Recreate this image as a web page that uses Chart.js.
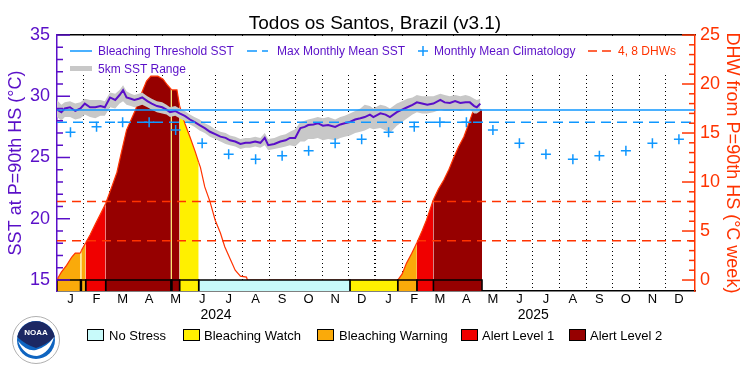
<!DOCTYPE html>
<html>
<head>
<meta charset="utf-8">
<script src="https://cdn.jsdelivr.net/npm/chart.js@4.4.0/dist/chart.umd.min.js"></script>
<style>
  body { margin: 0; background: #fff; }
  #caixa { position: relative; width: 750px; height: 375px; font-family: "Liberation Sans", Arial, sans-serif; }
  #grafico, #desenhos { position: absolute; left: 0; top: 0; }
  .leg { position: absolute; white-space: nowrap; font-size: 12px; line-height: 14px; color: #5a0fc8; }
  .leg-status { position: absolute; white-space: nowrap; font-size: 13px; line-height: 15px; color: #000; top: 328px; }
</style>
</head>
<body>
<div id="caixa">
  <canvas id="grafico" width="750" height="375"></canvas>
  <svg id="desenhos" width="750" height="375">
    <!-- fundo da legenda dentro do grafico -->
    <rect x="71" y="36" width="611" height="39" fill="#fff"/>
    <line x1="70" y1="51" x2="92" y2="51" stroke="#0f97ff" stroke-width="1.5"/>
    <line x1="247" y1="51" x2="268" y2="51" stroke="#0f97ff" stroke-width="1.5" stroke-dasharray="10 5"/>
    <line x1="418" y1="51" x2="428" y2="51" stroke="#0f97ff" stroke-width="1.5"/>
    <line x1="423" y1="46" x2="423" y2="56" stroke="#0f97ff" stroke-width="1.5"/>
    <line x1="588" y1="51" x2="612" y2="51" stroke="#ff3300" stroke-width="1.5" stroke-dasharray="9 5"/>
    <line x1="70" y1="68.5" x2="92" y2="68.5" stroke="#c8c8c8" stroke-width="5"/>
    <!-- caixas da legenda de status -->
    <rect x="87.5" y="329.5" width="16" height="11" fill="#c8fafa" stroke="#000"/>
    <rect x="183.5" y="329.5" width="16" height="11" fill="#fff000" stroke="#000"/>
    <rect x="317.5" y="329.5" width="16" height="11" fill="#faaa0a" stroke="#000"/>
    <rect x="461.5" y="329.5" width="16" height="11" fill="#f00000" stroke="#000"/>
    <rect x="569.5" y="329.5" width="16" height="11" fill="#960000" stroke="#000"/>
    <!-- logo NOAA simplificado -->
    <circle cx="36" cy="340" r="23.5" fill="#fff" stroke="#b0b0b0" stroke-width="1"/>
    <circle cx="36" cy="340" r="19" fill="#0e64c0"/>
    <path d="M17.3,337 A19,19 0 0 1 54.7,337 Q46,345 36,348 Q26,345 17.3,337 Z" fill="#1c2863"/>
    <path d="M18,341 Q27,352 36,350 Q47,347 54,337 Q49,354 37,356 Q24,356 18,341 Z" fill="#fff"/>
    <text x="36" y="335" font-size="8" font-weight="bold" fill="#fff" text-anchor="middle" font-family="Liberation Sans, Arial, sans-serif">NOAA</text>
  </svg>
  <div class="leg" style="left:98px; top:44px;">Bleaching Threshold SST</div>
  <div class="leg" style="left:277px; top:44px;">Max Monthly Mean SST</div>
  <div class="leg" style="left:434px; top:44px;">Monthly Mean Climatology</div>
  <div class="leg" style="left:618px; top:44px; color:#ff3300;">4, 8 DHWs</div>
  <div class="leg" style="left:98px; top:62px;">5km SST Range</div>
  <div class="leg-status" style="left:109px;">No Stress</div>
  <div class="leg-status" style="left:204px;">Bleaching Watch</div>
  <div class="leg-status" style="left:339px;">Bleaching Warning</div>
  <div class="leg-status" style="left:482px;">Alert Level 1</div>
  <div class="leg-status" style="left:590px;">Alert Level 2</div>
</div>
<script>
// dias contados a partir de 1 jan 2024
const diasSST = [0,5,9,15,21,27,32,38,44,50,55,61,67,72,76,80,85,89,94,98,104,109,115,121,126,130,136,141,147,153,158,164,170,176,182,188,194,199,205,211,217,222,228,234,239,243,250,257,263,268,274,280,285,289,295,300,306,312,320,326,331,337,343,349,354,360,364,372,378,383,391,397,403,409,414,420,426,433,441,446,452,458,464,470,475,480,483,487];
const sst    = [28.9,28.7,29.0,29.1,28.8,29.0,29.4,29.1,29.1,29.2,29.1,29.9,29.7,30.1,30.5,29.9,29.8,29.7,29.8,29.9,29.6,29.4,29.2,29.1,28.9,28.7,28.8,28.6,28.4,28.1,27.9,27.65,27.4,27.1,26.9,26.7,26.6,26.4,26.3,26.1,26.2,26.2,26.3,26.2,26.6,26.0,26.1,26.3,26.4,26.6,26.6,27.4,27.5,27.65,27.7,27.8,27.6,27.65,27.5,27.7,27.8,27.9,28.1,28.2,28.3,28.5,28.3,28.6,28.5,28.3,28.7,28.9,29.1,29.3,29.5,29.4,29.3,29.4,29.7,29.5,29.45,29.6,29.45,29.5,29.5,29.2,29.1,29.4];
const sstMin = [28.3,28.0,28.3,28.3,28.1,28.2,28.5,28.3,28.2,28.4,28.4,29.1,29.0,29.4,29.6,29.3,29.2,29.1,29.2,29.3,29.1,28.9,28.7,28.6,28.5,28.3,28.4,28.2,28.0,27.7,27.5,27.2,27.0,26.7,26.5,26.3,26.1,26.0,25.9,25.7,25.8,25.8,25.9,25.8,26.0,25.6,25.7,25.8,25.9,26.0,25.9,26.3,26.3,26.5,26.5,26.6,26.4,26.5,26.4,26.6,26.7,26.8,27.0,27.1,27.2,27.4,27.3,27.4,27.2,27.0,27.6,27.9,28.2,28.5,28.7,28.6,28.6,28.7,28.9,28.8,28.8,28.9,28.8,28.9,28.9,28.6,28.6,28.8];
const sstMax = [29.7,29.3,29.5,29.6,29.4,29.5,29.8,29.7,29.7,29.7,29.6,30.3,30.2,30.5,30.9,30.4,30.2,30.1,30.2,30.3,30.0,29.8,29.6,29.5,29.3,29.1,29.2,29.0,28.8,28.5,28.3,28.1,27.8,27.6,27.3,27.1,27.0,26.8,26.7,26.5,26.6,26.6,26.7,26.6,27.0,26.5,26.6,26.8,26.9,27.1,27.3,27.9,28.0,28.1,28.2,28.3,28.2,28.3,28.1,28.3,28.4,28.6,28.8,29.0,29.3,29.2,29.0,29.3,29.2,29.0,29.4,29.6,29.8,29.9,30.1,30.0,30.0,30.0,30.2,30.1,30.0,30.1,30.0,30.1,30.0,29.8,29.7,29.8];

const diasDHW = [0,1,5,11,17,21,27,28,33,38,44,51,56,63,69,74,80,86,90,97,103,108,116,122,127,131,132,138,141,147,153,159,163,165,170,176,182,188,193,199,205,211,218,219,392,397,402,408,414,420,425,433,439,445,451,456,462,468,473,477,479,483,489];
const dhw     = [0,0.2,0.8,1.5,2.35,2.75,2.75,3.0,3.8,4.6,5.7,6.9,7.8,9.5,11.0,13.0,15.3,16.5,17.3,19.0,20.3,20.8,20.8,20.5,19.9,19.5,19.4,19.4,17.8,16.0,14.6,13.1,12.0,11.5,9.5,8.0,6.1,4.8,3.4,2.2,1.0,0.4,0.3,0,0,0.6,1.7,2.7,3.8,5.0,6.1,8.2,9.3,10.2,11.3,12.4,13.6,14.6,15.8,16.8,17.3,17.6,17.3];

const diasClima = [15.5,45.5,75.5,106,136.5,167,197.5,228.5,259,289.5,320,350.5,381.5,411,440.5,471,501.5,532,562.5,593.5,624,654.5,685,715.5];
const clima     = [27.06,27.51,27.87,27.87,27.24,26.16,25.26,24.85,25.15,25.56,26.16,26.49,27.06,27.51,27.87,27.87,27.24,26.16,25.26,24.85,25.15,25.56,26.16,26.49];

const mmm = 27.87;
const limiarBranqueamento = 28.87;
const niveisDHW = [4, 8];

// status: 0 sem estresse, 1 watch, 2 warning, 3 alerta 1, 4 alerta 2
const statusInicio = [0, 27, 28, 33, 56, 131, 132, 141, 163, 337, 392, 414, 433];
const statusFim    = [27, 28, 33, 56, 131, 132, 141, 163, 337, 392, 414, 433, 489];
const statusNivel  = [2, 1, 2, 3, 4, 1, 4, 1, 0, 1, 2, 3, 4];
const coresStatus  = ['#c8fafa', '#fff000', '#faaa0a', '#f00000', '#960000'];

const inicioMes = [31,60,91,121,152,182,213,244,274,305,335,366,397,425,456,486,517,547,578,609,639,670,700];
const letrasMes = ['J','F','M','A','M','J','J','A','S','O','N','D','J','F','M','A','M','J','J','A','S','O','N','D'];
const meioAno = [183, 548];
const anos = ['2024', '2025'];
const ticksSST = [15,16,17,18,19,20,21,22,23,24,25,26,27,28,29,30,31,32,33,34,35];
const ticksDHW = [0,1,2,3,4,5,6,7,8,9,10,11,12,13,14,15,16,17,18,19,20,21,22,23,24,25];

const diaMax = 734;
const sstEixoMin = 14.1;
const dhwEixoMin = -1.12;

const roxo = '#5a0fc8';
const laranja = '#ff3300';
const azul = '#0f97ff';

Chart.defaults.font.family = '"Liberation Sans", Arial, sans-serif';

function nivelEm(dia) {
  for (let i = 0; i < statusInicio.length; i++) {
    if (dia >= statusInicio[i] && dia < statusFim[i]) return statusNivel[i];
  }
  return -1;
}

function pontos(xs, ys) {
  return xs.map((x, i) => ({ x: x, y: ys[i] }));
}

const barrasStatus = statusInicio.map((ini, i) => ({
  label: 'status' + i,
  yAxisID: 'y2',
  data: [
    { x: ini, y: dhwEixoMin }, { x: ini, y: 0 },
    { x: statusFim[i], y: 0 }, { x: statusFim[i], y: dhwEixoMin }
  ],
  borderColor: '#000',
  borderWidth: 1.5,
  backgroundColor: coresStatus[statusNivel[i]],
  fill: 'start',
  pointRadius: 0
}));

const linhaHorizontal = (valor, eixo, cor, tracejado) => ({
  yAxisID: eixo,
  data: [{ x: 0, y: valor }, { x: diaMax, y: valor }],
  borderColor: cor,
  borderWidth: 1.5,
  borderDash: tracejado,
  pointRadius: 0,
  fill: false
});

// marcas dos eixos y voltadas para dentro
const marcasInternas = {
  id: 'marcasInternas',
  afterDatasetsDraw(chart) {
    const ctx = chart.ctx;
    [['y', 1, roxo], ['y2', -1, laranja]].forEach(([id, dir, cor]) => {
      const s = chart.scales[id];
      const x0 = dir > 0 ? s.right : s.left;
      ctx.save();
      ctx.strokeStyle = cor;
      ctx.lineWidth = 1.5;
      s.ticks.forEach(t => {
        const y = s.getPixelForValue(t.value);
        const tam = t.value % 5 === 0 ? 13 : 6;
        ctx.beginPath();
        ctx.moveTo(x0, y);
        ctx.lineTo(x0 + dir * tam, y);
        ctx.stroke();
      });
      ctx.restore();
    });
  }
};

const grafico = new Chart(document.getElementById('grafico'), {
  type: 'line',
  data: {
    datasets: [
      {
        label: 'Monthly Mean Climatology',
        data: pontos(diasClima, clima),
        showLine: false,
        pointStyle: 'cross',
        pointRadius: 5,
        borderColor: azul,
        pointBorderWidth: 1.5
      },
      linhaHorizontal(limiarBranqueamento, 'y', azul, []),
      linhaHorizontal(mmm, 'y', azul, [10, 6]),
      linhaHorizontal(niveisDHW[1], 'y2', laranja, [9, 6]),
      linhaHorizontal(niveisDHW[0], 'y2', laranja, [9, 6]),
      {
        label: 'SST',
        data: pontos(diasSST, sst),
        borderColor: roxo,
        borderWidth: 2,
        pointRadius: 0,
        fill: false
      },
      {
        label: 'max',
        data: pontos(diasSST, sstMax),
        borderWidth: 0,
        borderColor: 'rgba(0,0,0,0)',
        backgroundColor: '#c8c8c8',
        pointRadius: 0,
        fill: '+1'
      },
      {
        label: 'min',
        data: pontos(diasSST, sstMin),
        borderWidth: 0,
        borderColor: 'rgba(0,0,0,0)',
        pointRadius: 0,
        fill: false
      },
      ...barrasStatus,
      {
        label: 'DHW',
        yAxisID: 'y2',
        data: pontos(diasDHW, dhw),
        borderColor: laranja,
        borderWidth: 1.2,
        backgroundColor: 'rgba(0,0,0,0)',
        pointRadius: 0,
        fill: 'origin',
        segment: {
          backgroundColor: c => {
            const nivel = nivelEm((c.p0.parsed.x + c.p1.parsed.x) / 2);
            return nivel > 0 ? coresStatus[nivel] : 'rgba(0,0,0,0)';
          }
        }
      }
    ]
  },
  options: {
    responsive: false,
    animation: false,
    devicePixelRatio: 1,
    layout: { padding: { left: 0, right: 0, top: 0, bottom: 53 } },
    plugins: {
      legend: { display: false },
      tooltip: { enabled: false },
      title: {
        display: true,
        text: 'Todos os Santos, Brazil (v3.1)',
        color: '#000',
        font: { size: 19, weight: 'normal' },
        padding: { top: 12, bottom: 0.2 }
      }
    },
    scales: {
      x: {
        type: 'linear', position: 'bottom', min: 0, max: diaMax, weight: 0,
        afterBuildTicks: s => { s.ticks = inicioMes.map(v => ({ value: v })); },
        afterFit: s => { s.height = 0; },
        ticks: { display: false, autoSkip: false },
        grid: {
          color: '#000',
          lineWidth: c => (c.tick && c.tick.value === 366 ? 2 : 1),
          drawTicks: false
        },
        border: { display: false, dash: [1, 3] }
      },
      xm: {
        type: 'linear', position: 'bottom', min: 0, max: diaMax, weight: 1,
        afterBuildTicks: s => { s.ticks = diasClima.map(v => ({ value: v })); },
        afterFit: s => { s.height = 15; },
        ticks: {
          autoSkip: false, maxRotation: 0, padding: 1, color: '#000',
          font: { size: 13 },
          callback: (v, i) => letrasMes[i]
        },
        grid: { display: false, drawTicks: false },
        border: { display: true, color: '#000', width: 1.5 }
      },
      xa: {
        type: 'linear', position: 'bottom', min: 0, max: diaMax, weight: 2,
        afterBuildTicks: s => { s.ticks = meioAno.map(v => ({ value: v })); },
        afterFit: s => { s.height = 16; },
        ticks: {
          autoSkip: false, maxRotation: 0, padding: 1, color: '#000',
          font: { size: 14 },
          callback: (v, i) => anos[i]
        },
        grid: { display: false, drawTicks: false },
        border: { display: false }
      },
      xt: {
        type: 'linear', position: 'top', min: 0, max: diaMax,
        afterFit: s => { s.height = 0; },
        ticks: { display: false },
        grid: { display: false, drawTicks: false },
        border: { display: true, color: '#000', width: 1.5 }
      },
      y: {
        type: 'linear', position: 'left', min: sstEixoMin, max: 35,
        afterBuildTicks: s => { s.ticks = ticksSST.map(v => ({ value: v })); },
        afterFit: s => { s.width = 57; },
        ticks: {
          autoSkip: false, padding: 7, color: roxo, font: { size: 18 },
          callback: v => (v % 5 === 0 ? v : '')
        },
        grid: { display: false, drawTicks: false },
        border: { display: true, color: roxo, width: 1.5 },
        title: {
          display: true, text: 'SST at P=90th HS (°C)', color: roxo,
          font: { size: 18 }, padding: { top: 5, bottom: 0 }
        }
      },
      y2: {
        type: 'linear', position: 'right', min: dhwEixoMin, max: 25,
        afterBuildTicks: s => { s.ticks = ticksDHW.map(v => ({ value: v })); },
        afterFit: s => { s.width = 55; },
        ticks: {
          autoSkip: false, padding: 5, color: laranja, font: { size: 18 },
          callback: v => (v % 5 === 0 ? v : '')
        },
        grid: { display: false, drawTicks: false },
        border: { display: true, color: laranja, width: 1.5 },
        title: {
          display: true, text: 'DHW from P=90th HS (°C week)', color: laranja,
          font: { size: 18 }, padding: { top: 7, bottom: 0 }
        }
      }
    }
  },
  plugins: [marcasInternas]
});
</script>
</body>
</html>
